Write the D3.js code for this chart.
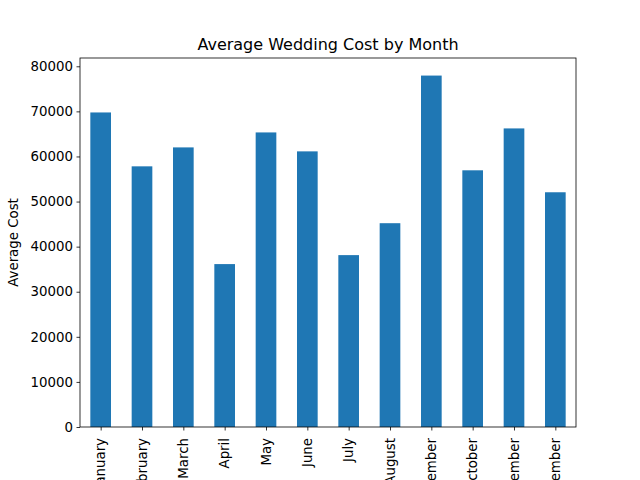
<!DOCTYPE html>
<html>
<head>
<meta charset="utf-8">
<script src="https://cdn.jsdelivr.net/npm/d3@7"></script>
<style>
  body { margin: 0; background: #fff; }
  svg { display: block; font-family: "DejaVu Sans", sans-serif; }
</style>
</head>
<body>
<svg width="640" height="480"></svg>
<script>
var months = ["January", "February", "March", "April", "May", "June",
  "July", "August", "September", "October", "November", "December"];
var avgCost = [69760, 57810, 62010, 36130, 65330, 61130,
  38120, 45200, 77940, 56930, 66220, 52060];
var yTicks = [0, 10000, 20000, 30000, 40000, 50000, 60000, 70000, 80000];

var margin = {top: 58, right: 64, bottom: 53, left: 80};
var width = 640 - margin.left - margin.right;
var height = 480 - margin.top - margin.bottom;

var svg = d3.select("svg");
var g = svg.append("g").attr("transform", "translate(" + margin.left + "," + margin.top + ")");

// pandas style bar: slots of 1, bar width 0.5, xlim -0.5..n-0.5
var x = d3.scaleLinear().domain([-0.5, months.length - 0.5]).range([0, width]);
var y = d3.scaleLinear().domain([0, d3.max(avgCost) * 1.05]).range([height, 0]);

g.selectAll("rect.bar")
  .data(avgCost)
  .enter().append("rect")
  .attr("class", "bar")
  .attr("x", function(d, i) { return x(i - 0.25); })
  .attr("width", function(d, i) { return x(i + 0.25) - x(i - 0.25); })
  .attr("y", function(d) { return y(d); })
  .attr("height", function(d) { return height - y(d); })
  .style("fill", "#1f77b4");

// y axis
var yAxis = g.append("g")
  .call(d3.axisLeft(y).tickValues(yTicks).tickFormat(d3.format("d")).tickSize(3.5).tickPadding(3.5));
yAxis.select(".domain").remove();
yAxis.selectAll("text").style("font-size", "13.33px").style("fill", "#000").style("font-family", "DejaVu Sans");
yAxis.selectAll("line").style("stroke", "#000").style("stroke-width", 0.8);

// x axis
var xAxis = g.append("g")
  .attr("transform", "translate(0," + height + ")")
  .call(d3.axisBottom(x).tickValues(d3.range(months.length))
    .tickFormat(function(i) { return months[i]; }).tickSize(3.5).tickPadding(3.5));
xAxis.select(".domain").remove();
xAxis.selectAll("line").style("stroke", "#000").style("stroke-width", 0.8);
xAxis.selectAll("text")
  .style("font-size", "13.33px").style("fill", "#000").style("font-family", "DejaVu Sans")
  .attr("text-anchor", "end")
  .attr("dy", "0.32em")
  .attr("transform", "rotate(-90)")
  .attr("x", -11)
  .attr("y", 0);

// frame
g.append("rect")
  .attr("x", 0).attr("y", 0).attr("width", width).attr("height", height)
  .style("fill", "none").style("stroke", "#000").style("stroke-width", 0.8);

// title
svg.append("text")
  .attr("x", margin.left + width / 2)
  .attr("y", margin.top - 8)
  .attr("text-anchor", "middle")
  .style("font-size", "16px")
  .text("Average Wedding Cost by Month");

// y label
svg.append("text")
  .attr("transform", "translate(18," + (margin.top + height / 2) + ") rotate(-90)")
  .attr("text-anchor", "middle")
  .style("font-size", "13.33px")
  .text("Average Cost");
</script>
</body>
</html>
